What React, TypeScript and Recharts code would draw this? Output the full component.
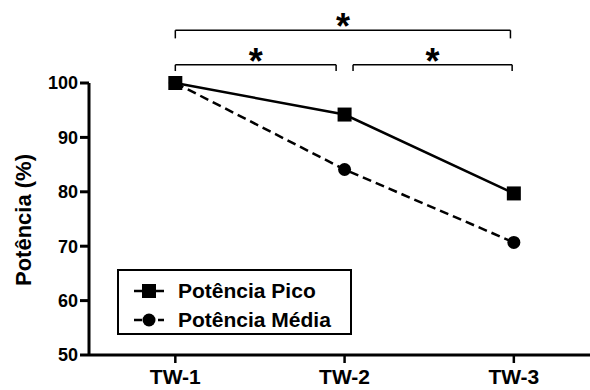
import React from 'react';
import {
  LineChart,
  Line,
  XAxis,
  YAxis,
  ReferenceLine,
  Legend,
} from 'recharts';

const categories = ['TW-1', 'TW-2', 'TW-3'];
const positions = [1, 2, 3];
const potenciaPico = [100, 94.2, 79.7];
const potenciaMedia = [100, 84.1, 70.7];
const yTicks = [50, 60, 70, 80, 90, 100];

// significance brackets: from, to, bar level, tick end
const brackets = [
  { from: 1, to: 2.98, y: 109.7, yEnd: 108.2 },
  { from: 1, to: 1.95, y: 103.35, yEnd: 102.2 },
  { from: 2.05, to: 2.99, y: 103.35, yEnd: 102.2 },
];

const FONT = '"Liberation Sans", Arial, sans-serif';

const chartData = positions.map((x, i) => ({
  x,
  pico: potenciaPico[i],
  media: potenciaMedia[i],
}));

function SquareDot(props: any) {
  const { cx, cy, key } = props;
  if (cx == null || cy == null) return null;
  return <rect key={key} x={cx - 7} y={cy - 7} width={14} height={14} fill="#000" />;
}

function StarLabel(props: any) {
  const vb = props.viewBox || {};
  const x = vb.x + (vb.width || 0) / 2;
  return (
    <text
      x={x}
      y={vb.y + 9}
      textAnchor="middle"
      fontFamily={FONT}
      fontWeight="bold"
      fontSize={36}
      fill="#000"
    >
      *
    </text>
  );
}

function YLabel(props: any) {
  const vb = props.viewBox || {};
  const cy = vb.y + vb.height / 2 + 1;
  const cx = 23;
  return (
    <text
      x={cx}
      y={cy}
      transform={`rotate(-90, ${cx}, ${cy})`}
      textAnchor="middle"
      dominantBaseline="central"
      fontFamily={FONT}
      fontWeight="bold"
      fontSize={22}
      fill="#000"
    >
      Potência (%)
    </text>
  );
}

function renderLegend() {
  return (
    <div
      style={{
        border: '2px solid #000',
        boxSizing: 'border-box',
        width: 235,
        height: 66,
        padding: '5px 0 0 14px',
        fontFamily: FONT,
        fontWeight: 'bold',
        fontSize: 21,
        background: '#fff',
      }}
    >
      <div style={{ display: 'flex', alignItems: 'center', height: 29 }}>
        <svg width={32} height={16} style={{ marginRight: 13 }}>
          <line x1={1} y1={8} x2={31} y2={8} stroke="#000" strokeWidth={2.5} />
          <rect x={9} y={1} width={14} height={14} fill="#000" />
        </svg>
        <span>Potência Pico</span>
      </div>
      <div style={{ display: 'flex', alignItems: 'center', height: 29 }}>
        <svg width={32} height={16} style={{ marginRight: 13 }}>
          <line x1={1} y1={8} x2={31} y2={8} stroke="#000" strokeWidth={2.5} strokeDasharray="8 4" />
          <circle cx={16} cy={8} r={6.5} fill="#000" />
        </svg>
        <span>Potência Média</span>
      </div>
    </div>
  );
}

export default function App() {
  return (
    <div style={{ position: 'absolute', left: 0, top: 0, width: 590, height: 390, background: '#fff' }}>
      <LineChart width={590} height={390} data={chartData} margin={{ top: 83, right: 0, left: 0, bottom: 0 }}>
        <XAxis
          type="number"
          dataKey="x"
          domain={[0.49, 3.45]}
          ticks={positions}
          tickFormatter={(v: number) => categories[v - 1]}
          height={35}
          axisLine={{ stroke: '#000', strokeWidth: 3 }}
          tickLine={{ stroke: '#000', strokeWidth: 2.5 }}
          tickSize={8}
          tickMargin={6}
          tick={{ fill: '#000', fontSize: 21, fontWeight: 'bold', fontFamily: FONT }}
        />
        <YAxis
          type="number"
          domain={[50, 100]}
          ticks={yTicks}
          width={89}
          axisLine={{ stroke: '#000', strokeWidth: 3 }}
          tickLine={{ stroke: '#000', strokeWidth: 3 }}
          tickSize={9}
          tickMargin={2}
          tick={{ fill: '#000', fontSize: 18, fontWeight: 'bold', fontFamily: FONT }}
          label={<YLabel />}
        />
        {brackets.map((b, i) => (
          <ReferenceLine
            key={`b${i}`}
            segment={[
              { x: b.from, y: b.y },
              { x: b.to, y: b.y },
            ]}
            stroke="#000"
            strokeWidth={1.5}
            ifOverflow="visible"
            label={<StarLabel />}
          />
        ))}
        {brackets.flatMap((b, i) =>
          [b.from, b.to].map((xv, j) => (
            <ReferenceLine
              key={`t${i}-${j}`}
              segment={[
                { x: xv, y: b.y },
                { x: xv, y: b.yEnd },
              ]}
              stroke="#000"
              strokeWidth={1.5}
              ifOverflow="visible"
            />
          ))
        )}
        <Line
          dataKey="media"
          name="Potência Média"
          stroke="#000"
          strokeWidth={2.5}
          strokeDasharray="9 5"
          dot={{ r: 6.5, fill: '#000', stroke: '#000', strokeWidth: 0, strokeDasharray: '' }}
          isAnimationActive={false}
        />
        <Line
          dataKey="pico"
          name="Potência Pico"
          stroke="#000"
          strokeWidth={2.5}
          dot={<SquareDot />}
          isAnimationActive={false}
        />
        <Legend
          layout="vertical"
          align="center"
          verticalAlign="middle"
          content={renderLegend}
          wrapperStyle={{ position: 'absolute', left: 117, top: 269, width: 235, height: 66 }}
        />
      </LineChart>
    </div>
  );
}
